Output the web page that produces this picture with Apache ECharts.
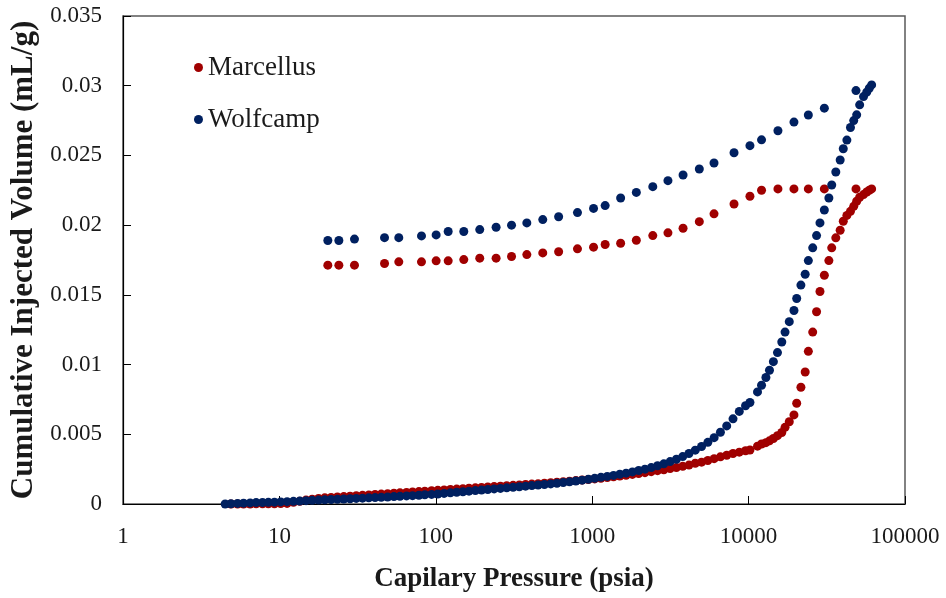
<!DOCTYPE html>
<html>
<head>
<meta charset="utf-8">
<script src="https://cdn.jsdelivr.net/npm/echarts@6/dist/echarts.min.js"></script>
<style>
  html, body { margin: 0; padding: 0; background: #fff; }
  #chart { width: 946px; height: 598px; }
</style>
</head>
<body>
<div id="chart"></div>
<script>
// Mercury injection capillary pressure: intrusion (low branch) and extrusion (upper branch)

// Pressure schedule, intrusion, low/medium pressure (psia)
const pIntrusionLow = [4.5, 4.9, 5.4, 5.9, 6.5, 7.1, 7.8, 8.5, 9.3, 10.2, 11.2, 12.3, 13.5, 14.8, 16.2, 17.8, 19.5,
  21.4, 23.5, 25.8, 28.3, 31, 34, 37.3, 40.9, 44.8, 49.2, 54, 59, 65, 71, 78, 85, 94, 103, 113, 124, 136, 149, 163,
  179, 196, 215, 236, 259, 284, 312, 342, 375, 411, 451, 495, 543, 595, 653, 716, 786, 862, 945, 1037, 1137, 1248,
  1369, 1501, 1647, 1807, 1982, 2174, 2385, 2617, 2870, 3149, 3454, 3790, 4157, 4560, 5003, 5488, 6020, 6605, 7245,
  7950, 8720, 9560];

// Pressure schedule, intrusion, high pressure (psia)
const pIntrusionHigh = [10200, 11400, 12100, 12900, 13600, 14400, 15300, 16300, 17100, 18200, 19500, 20300, 21600,
  23000, 24100, 25700, 27200, 28600, 30500, 32600, 34000, 36100, 38500, 40300, 42500, 44800, 47000, 49100, 51300,
  54300, 56900, 59100, 61200];

// Pressure schedule, extrusion (psia)
const pExtrusion = [48600, 30500, 24100, 19500, 15400, 12100, 10200, 8070, 6010, 4840, 3810, 3050, 2440, 1915, 1520,
  1210, 1020, 805, 610, 483, 382, 305, 243, 191, 151, 120, 100.5, 81, 58, 47, 30.2, 24, 20.4];

// Cumulative injected volume (mL/g), Marcellus
const marcellusIntrusionLow = [null, 0, 0, 0, 0, 0.00001, 0.00001, 0.00002, 0.00002, 0.00003, 0.00004, 0.00012,
  0.0002, 0.00028, 0.00034, 0.0004, 0.00044, 0.00047, 0.0005, 0.00053, 0.00056, 0.00059, 0.00062, 0.00065, 0.00068,
  0.00071, 0.00074, 0.00077, 0.0008, 0.00083, 0.00086, 0.00089, 0.00092, 0.00095, 0.00098, 0.00101, 0.00104,
  0.00107, 0.0011, 0.00113, 0.00116, 0.00119, 0.00122, 0.00125, 0.00128, 0.00131, 0.00134, 0.00137, 0.0014,
  0.00143, 0.00146, 0.00149, 0.00152, 0.00156, 0.0016, 0.00164, 0.00168, 0.00172, 0.00176, 0.0018, 0.00185, 0.0019,
  0.00195, 0.002, 0.00206, 0.00212, 0.00218, 0.00225, 0.00232, 0.00239, 0.00246, 0.00254, 0.00262, 0.0027, 0.00279,
  0.00292, 0.003, 0.00312, 0.00325, 0.00338, 0.0035, 0.00362, 0.00372, 0.00382];
const marcellusIntrusionHigh = [0.00387, 0.00415, 0.0043, 0.0044, 0.00453, 0.0047, 0.0049, 0.00513, 0.0055, 0.0059,
  0.00639, 0.00723, 0.00837, 0.00947, 0.01095, 0.01233, 0.01379, 0.01524, 0.01641, 0.01746, 0.01837, 0.01909,
  0.01963, 0.02028, 0.0207, 0.02099, 0.02135, 0.02171, 0.022, 0.02219, 0.02238, 0.0225, 0.0226];
const marcellusExtrusion = [0.0226, 0.0226, 0.0226, 0.0226, 0.0226, 0.0225, 0.02207, 0.02152, 0.02081, 0.02025,
  0.01978, 0.01945, 0.01925, 0.01892, 0.0187, 0.01861, 0.01842, 0.0183, 0.01809, 0.01801, 0.01789, 0.01775, 0.01763,
  0.01763, 0.01753, 0.01744, 0.01744, 0.01737, 0.01737, 0.01725, 0.01713, 0.01713, 0.01713];

// Cumulative injected volume (mL/g), Wolfcamp
const wolfcampIntrusionLow = [0, 0.00002, 0.00004, 0.00006, 0.00008, 0.0001, 0.00011, 0.00012, 0.00013, 0.00015,
  0.00017, 0.00019, 0.00021, 0.00024, 0.00026, 0.00028, 0.0003, 0.00032, 0.00034, 0.00036, 0.00038, 0.0004, 0.00042,
  0.00044, 0.00046, 0.00048, 0.0005, 0.00053, 0.00055, 0.00058, 0.0006, 0.00063, 0.00066, 0.00069, 0.00072, 0.00076,
  0.0008, 0.00084, 0.00088, 0.00092, 0.00096, 0.001, 0.00104, 0.00108, 0.00112, 0.00116, 0.0012, 0.00124, 0.00128,
  0.00132, 0.00136, 0.0014, 0.00144, 0.00149, 0.00154, 0.00159, 0.00165, 0.00171, 0.00177, 0.00184, 0.00191,
  0.00198, 0.00205, 0.00213, 0.00221, 0.0023, 0.0024, 0.0025, 0.00261, 0.00274, 0.00288, 0.00304, 0.00321, 0.0034,
  0.00362, 0.00386, 0.00412, 0.00442, 0.00476, 0.00515, 0.0056, 0.00611, 0.00664, 0.00705];
const wolfcampIntrusionHigh = [0.00728, 0.00804, 0.00852, 0.00907, 0.00959, 0.01021, 0.01086, 0.01162, 0.01233,
  0.01308, 0.01388, 0.01474, 0.0157, 0.01648, 0.01746, 0.01837, 0.01925, 0.02016, 0.02109, 0.02195, 0.02288,
  0.02381, 0.02467, 0.02548, 0.0261, 0.027, 0.0275, 0.02791, 0.02863, 0.02922, 0.02954, 0.02982, 0.03006];
const wolfcampExtrusion = [0.02965, 0.02839, 0.0279, 0.02739, 0.02677, 0.02612, 0.0257, 0.02519, 0.02446, 0.02403,
  0.0236, 0.02319, 0.02276, 0.02235, 0.02195, 0.0214, 0.0212, 0.0209, 0.0206, 0.0204, 0.02016, 0.02, 0.01985,
  0.01968, 0.01954, 0.01954, 0.0193, 0.01923, 0.0191, 0.0191, 0.019, 0.0189, 0.0189];

// Tick labels
const xTickLabels = ['1', '10', '100', '1000', '10000', '100000'];
const yTickLabels = ['0', '0.005', '0.01', '0.015', '0.02', '0.025', '0.03', '0.035'];

const seriesNames = ['Marcellus', 'Wolfcamp'];
const seriesColors = ['#A00000', '#002060'];

function pairs(pressures, volumes) {
  const out = [];
  pressures.forEach((p, i) => {
    if (volumes[i] !== null && volumes[i] !== undefined) out.push([p, volumes[i]]);
  });
  return out;
}

const marcellusData = [].concat(
  pairs(pIntrusionLow, marcellusIntrusionLow),
  pairs(pIntrusionHigh, marcellusIntrusionHigh),
  pairs(pExtrusion, marcellusExtrusion));
const wolfcampData = [].concat(
  pairs(pIntrusionLow, wolfcampIntrusionLow),
  pairs(pIntrusionHigh, wolfcampIntrusionHigh),
  pairs(pExtrusion, wolfcampExtrusion));

const serif = '"Liberation Serif", "Times New Roman", serif';
const textColor = '#1a1a1a';

const chart = echarts.init(document.getElementById('chart'), null, { renderer: 'canvas' });
chart.setOption({
  animation: false,
  backgroundColor: '#ffffff',
  grid: {
    left: 123, top: 16, right: 41, bottom: 93,
    show: true, borderColor: '#595959', borderWidth: 1.5, backgroundColor: 'transparent'
  },
  legend: {
    orient: 'vertical',
    left: 189, top: 49,
    itemWidth: 9, itemHeight: 9, itemGap: 25,
    icon: 'circle',
    textStyle: { fontFamily: serif, fontSize: 27, color: textColor, lineHeight: 26 },
    data: seriesNames
  },
  xAxis: {
    type: 'log', logBase: 10, min: 1, max: 100000,
    name: 'Capilary Pressure (psia)', nameLocation: 'middle', nameGap: 62,
    nameTextStyle: { fontFamily: serif, fontSize: 27, fontWeight: 'bold', color: textColor },
    axisLine: { show: true, lineStyle: { color: '#000', width: 1.2 } },
    axisTick: { show: true, inside: true, length: 8, lineStyle: { color: '#000' } },
    minorTick: { show: false },
    splitLine: { show: false },
    axisLabel: {
      margin: 21, fontFamily: serif, fontSize: 23, color: textColor,
      formatter: v => xTickLabels[Math.round(Math.log10(v))]
    }
  },
  yAxis: {
    type: 'value', min: 0, max: 0.035, interval: 0.005,
    name: 'Cumulative Injected Volume (mL/g)', nameLocation: 'middle', nameGap: 78, nameRotate: 90,
    nameTextStyle: { fontFamily: serif, fontSize: 31, fontWeight: 'bold', color: textColor },
    axisLine: { show: true, lineStyle: { color: '#000', width: 1.2 } },
    axisTick: { show: true, inside: true, length: 8, lineStyle: { color: '#000' } },
    splitLine: { show: false },
    axisLabel: {
      margin: 21, fontFamily: serif, fontSize: 23, color: textColor,
      formatter: v => yTickLabels[Math.round(v / 0.005)]
    }
  },
  series: [
    {
      name: seriesNames[0], type: 'scatter', data: marcellusData, symbol: 'circle', symbolSize: 9,
      clip: false, itemStyle: { color: seriesColors[0], opacity: 1 }
    },
    {
      name: seriesNames[1], type: 'scatter', data: wolfcampData, symbol: 'circle', symbolSize: 9,
      clip: false, itemStyle: { color: seriesColors[1], opacity: 1 }
    }
  ]
});
</script>
</body>
</html>
